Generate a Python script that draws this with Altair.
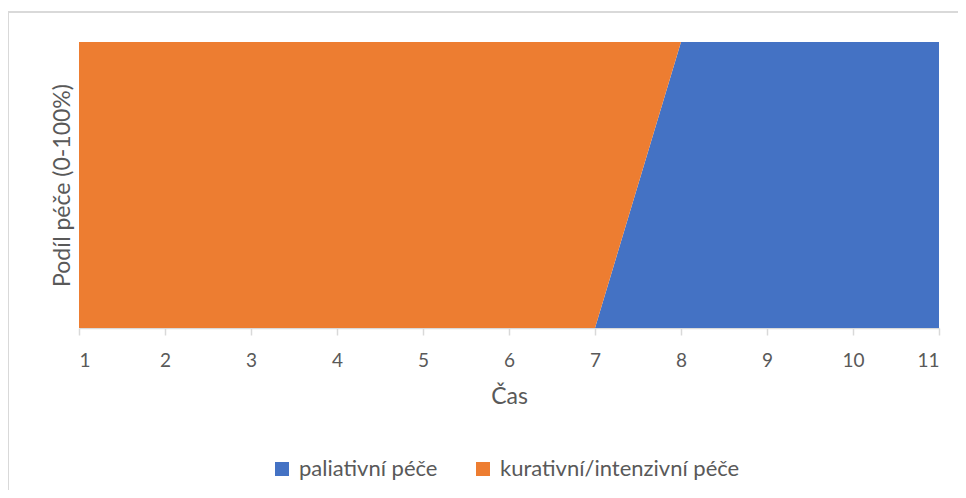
import altair as alt
import pandas as pd

cas = [1, 2, 3, 4, 5, 6, 7, 8, 9, 10, 11]
paliativni = [0, 0, 0, 0, 0, 0, 0, 100, 100, 100, 100]
kurativni = [100, 100, 100, 100, 100, 100, 100, 0, 0, 0, 0]
series = ["paliativní péče", "kurativní/intenzivní péče"]
colors = ["#4472C4", "#ED7D31"]

rows = []
for i, x in enumerate(cas):
    rows.append({"Čas": x, "typ": series[0], "podil": paliativni[i], "ord": 0})
    rows.append({"Čas": x, "typ": series[1], "podil": kurativni[i], "ord": 1})
df = pd.DataFrame(rows)

FONT = "Lato"
GRAY = "#595959"
LINE = "#D9D9D9"

area = alt.Chart(df).mark_area(interpolate="linear").encode(
    x=alt.X("Čas:Q",
            scale=alt.Scale(domain=[1, 11], nice=False, zero=False),
            axis=alt.Axis(values=cas, format="d", title="Čas",
                          grid=False, domainColor=LINE, domainWidth=1.5,
                          tickColor=LINE, tickWidth=1.5, tickSize=7,
                          labelPadding=16, labelFontSize=19, labelColor=GRAY,
                          labelFont=FONT, titleFont=FONT, titleFontSize=23,
                          titleFontWeight="normal", titleColor=GRAY,
                          titlePadding=15)),
    y=alt.Y("podil:Q", stack="zero",
            scale=alt.Scale(domain=[0, 100], nice=False),
            axis=alt.Axis(title="Podíl péče (0-100%)", labels=False, ticks=False,
                          domain=False, grid=False, titleFont=FONT,
                          titleFontSize=23, titleFontWeight="normal",
                          titleColor=GRAY, titlePadding=5)),
    color=alt.Color("typ:N",
                    scale=alt.Scale(domain=series, range=colors),
                    legend=alt.Legend(title=None, orient="none", direction="horizontal",
                                      legendX=192, legendY=416, symbolType="square",
                                      symbolSize=196, symbolStrokeWidth=0,
                                      labelFont=FONT, labelFontSize=22, labelColor=GRAY,
                                      labelOffset=6, labelLimit=0, columnPadding=34,
                                      padding=0)),
    order=alt.Order("ord:Q", sort="ascending"),
)

border_left = alt.Chart(df).mark_rule(color=LINE, strokeWidth=2).encode(
    x=alt.value(-71), y=alt.value(-30), y2=alt.value(448))
border_top = alt.Chart(df).mark_rule(color=LINE, strokeWidth=2).encode(
    x=alt.value(-71), x2=alt.value(879), y=alt.value(-30))

chart = alt.layer(area, border_left, border_top).properties(
    width=860, height=286,
    autosize=alt.AutoSizeParams(type="none"),
    padding={"left": 71, "top": 34, "right": 19, "bottom": 162},
).configure_view(stroke=None)

chart.save("out.html", embed_options={"renderer": "svg", "actions": False})
